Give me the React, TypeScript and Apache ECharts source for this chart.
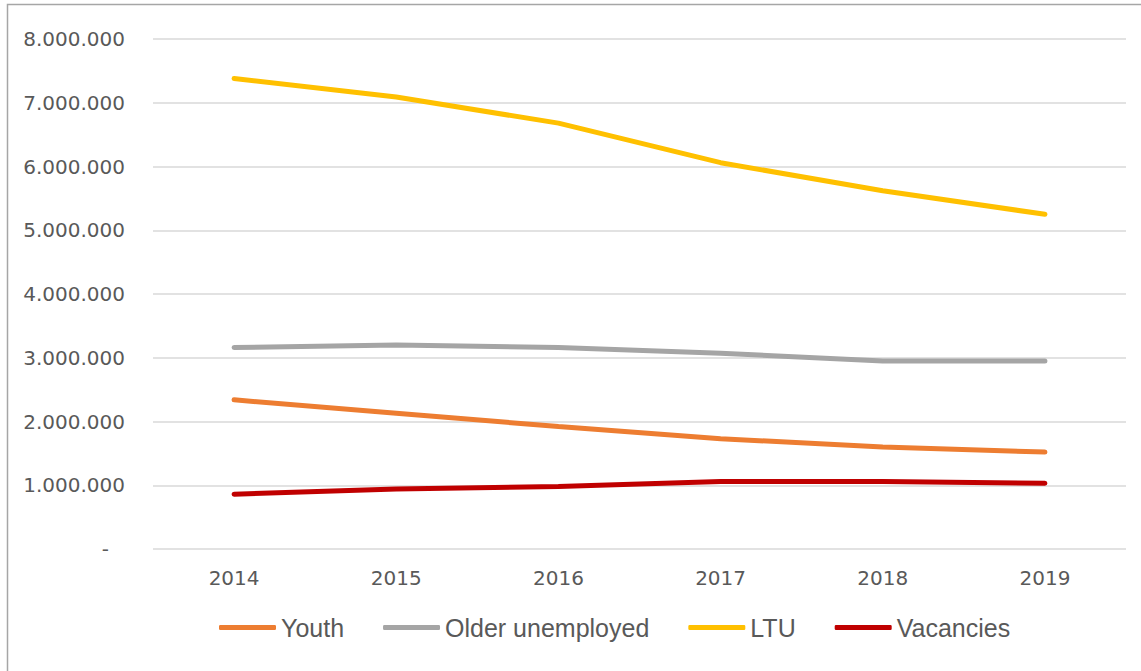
import React, { useEffect, useRef } from "react";
import * as echarts from "echarts";

const years = ["2014", "2015", "2016", "2017", "2018", "2019"];
const youth = [2340000, 2130000, 1920000, 1730000, 1600000, 1520000];
const older = [3160000, 3200000, 3160000, 3070000, 2950000, 2950000];
const ltu = [7380000, 7090000, 6680000, 6060000, 5620000, 5250000];
const vacancies = [860000, 940000, 980000, 1060000, 1060000, 1030000];
const seriesNames = ["Youth", "Older unemployed", "LTU", "Vacancies"];
const colors = ["#ED7D31", "#A5A5A5", "#FFC000", "#C00000"];

function fmt(v: number): string {
  if (v === 0) return "{d|-}";
  return String(v).replace(/\B(?=(\d{3})+(?!\d))/g, ".");
}

export default function App() {
  const ref = useRef<HTMLDivElement>(null);
  useEffect(() => {
    document.body.style.margin = "0";
    const chart = echarts.init(ref.current!, null, { renderer: "svg" });
    const data = [youth, older, ltu, vacancies];
    chart.setOption({
      animation: false,
      backgroundColor: "#fff",
      graphic: [
        {
          type: "rect",
          shape: { x: 7.5, y: 4.5, width: 1200, height: 700 },
          style: { fill: "none", stroke: "#A6A6A6", lineWidth: 1.5 },
          silent: true,
        },
      ],
      grid: { left: 153, right: 15, top: 39, bottom: 122, containLabel: false },
      xAxis: {
        type: "category",
        data: years,
        boundaryGap: true,
        axisLine: { show: false },
        axisTick: { show: false },
        axisLabel: {
          color: "#595959",
          fontSize: 20,
          fontFamily: "DejaVu Sans",
          margin: 19,
        },
      },
      yAxis: {
        type: "value",
        min: 0,
        max: 8000000,
        interval: 1000000,
        axisLine: { show: false },
        axisTick: { show: false },
        splitLine: { lineStyle: { color: "#D9D9D9", width: 1.5 } },
        axisLabel: {
          color: "#595959",
          fontSize: 20,
          fontFamily: "DejaVu Sans",
          margin: 28,
          formatter: fmt,
          rich: { d: { color: "#595959", fontSize: 20, fontFamily: "DejaVu Sans", padding: [0, 16, 0, 0] } },
        },
      },
      legend: {
        bottom: 26,
        left: 214,
        itemWidth: 57,
        itemHeight: 5,
        itemGap: 39,
        icon: "roundRect",
        textStyle: {
          color: "#595959",
          fontSize: 25,
          fontFamily: "Liberation Sans",
        },
        data: seriesNames,
      },
      series: seriesNames.map((n, i) => ({
        name: n,
        type: "line",
        data: data[i],
        symbol: "none",
        color: colors[i],
        lineStyle: { width: 5, color: colors[i], cap: "round" },
      })),
    });
    return () => chart.dispose();
  }, []);
  return <div ref={ref} style={{ width: 1141, height: 671 }} />;
}
